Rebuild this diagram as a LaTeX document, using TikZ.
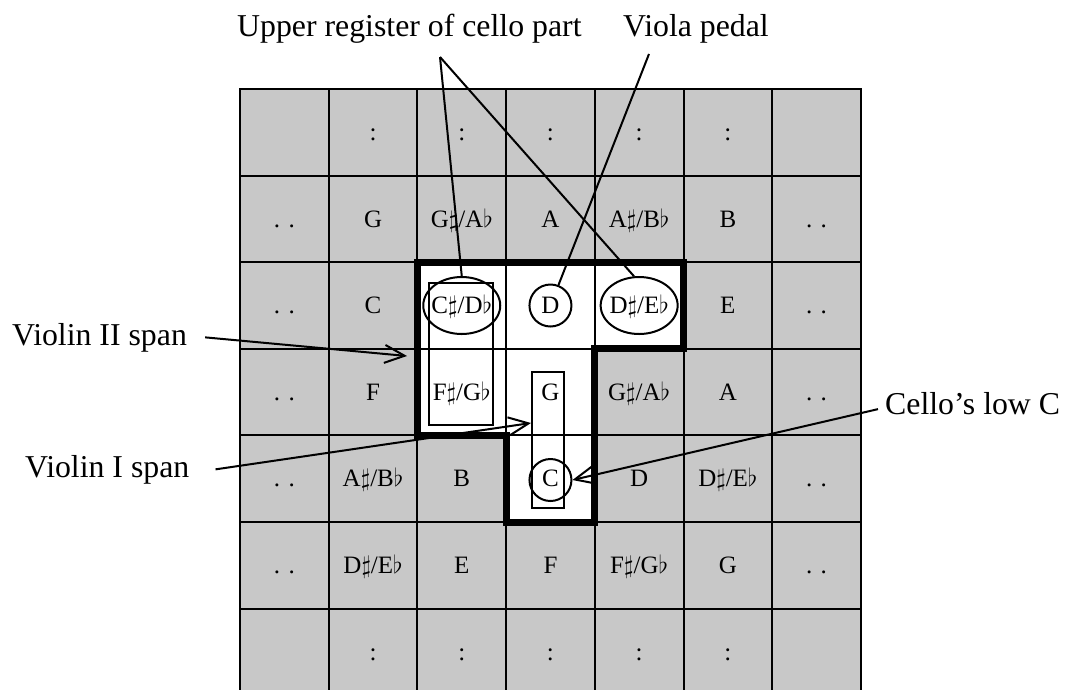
\documentclass[tikz,border=0pt]{standalone}
\usepackage{fontspec}
\setmainfont{Liberation Serif}
\usetikzlibrary{shapes.geometric, arrows.meta, backgrounds}
\definecolor{cellgray}{RGB}{200,200,200}
\newcommand{\regionpath}{(c-2-2.north west) -- (c-2-4.north east) -- (c-2-4.south east)
  -- (c-3-3.north east) -- (c-4-3.south east) -- (c-4-3.south west)
  -- (c-3-3.south west) -- (c-3-2.south west) -- cycle}

\begin{document}
\begin{tikzpicture}[x=1pt, y=-1pt,
    cell/.style={draw, line width=2pt, minimum width=88.7pt, minimum height=86.6pt,
      inner sep=0pt, outer sep=0pt, text height=16.5pt, text depth=0pt,
      font=\fontsize{25}{30}\selectfont},
    lbl/.style={inner sep=0pt, anchor=base west, font=\fontsize{31.8}{38}\selectfont},
    ring/.style={draw, line width=2pt, inner sep=0pt},
    spanbox/.style={draw, line width=2pt, inner sep=0pt},
    region/.style={line width=7pt},
    pointer/.style={line width=2pt},
    >={Straight Barb[length=20pt, width=18pt]}
  ]
    \useasboundingbox (0,0) rectangle (1067,689);

    % the pitch grid
    \foreach \row [count=\r from 0] in {
        {{}, :, :, :, :, :, {}},
        {. ., G, G$\sharp$/A$\flat$, A, A$\sharp$/B$\flat$, B, . .},
        {. ., C, C$\sharp$/D$\flat$, D, D$\sharp$/E$\flat$, E, . .},
        {. ., F, F$\sharp$/G$\flat$, G, G$\sharp$/A$\flat$, A, . .},
        {. ., A$\sharp$/B$\flat$, B, C, D, D$\sharp$/E$\flat$, . .},
        {. ., D$\sharp$/E$\flat$, E, F, F$\sharp$/G$\flat$, G, . .},
        {{}, :, :, :, :, :, {}}}{
      \foreach \txt [count=\c from 0] in \row {
        \node[cell] (c-\r-\c) at ({284.35+88.7*\c}, {132.3+86.6*\r}) {\txt};
      }
    }

    \begin{scope}[on background layer]
      \fill[cellgray] (c-0-0.north west) rectangle (c-6-6.south east);
      \fill[white] \regionpath;
    \end{scope}
    \draw[region] \regionpath;

    % marked notes and spans
    \node[ring, ellipse, minimum width=77pt, minimum height=57pt] (csharp) at (c-2-2) {};
    \node[ring, circle, minimum size=42pt] (dnote) at (c-2-3) {};
    \node[ring, ellipse, minimum width=77pt, minimum height=57pt] (dsharp) at (c-2-4) {};
    \node[ring, circle, minimum size=42pt] (lowc) at (550.45,480) {};
    \node[spanbox, minimum width=64pt, minimum height=142pt] (vtwospan) at (461,354) {};
    \node[spanbox, minimum width=32pt, minimum height=136pt] (vonespan) at (548,440) {};

    % labels
    \node[lbl] (upper) at (237,36) {Upper register of cello part};
    \node[lbl] (viola) at (623,36) {Viola pedal};
    \node[lbl] (vtwo) at (12,345) {Violin II span};
    \node[lbl] (vone) at (25,477) {Violin I span};
    \node[lbl] (cello) at (885,414) {Cello’s low C};

    \coordinate (upperfoot) at (440,57);
    \coordinate (vtwotip) at (407,356);

    \draw[pointer] (upperfoot) -- (csharp.north);
    \draw[pointer] (upperfoot) -- (dsharp.100);
    \draw[pointer] ([xshift=26pt, yshift=-11pt]viola.south west) -- (dnote);
    \draw[pointer, ->] ([xshift=18pt]vtwo.east) -- (vtwotip);
    \draw[pointer, ->] ([xshift=26pt]vone.east) -- ([yshift=17pt]vonespan.west);
    \draw[pointer, ->] ([xshift=-7pt, yshift=-6pt]cello.west) -- (lowc.east);
\end{tikzpicture}
\end{document}
